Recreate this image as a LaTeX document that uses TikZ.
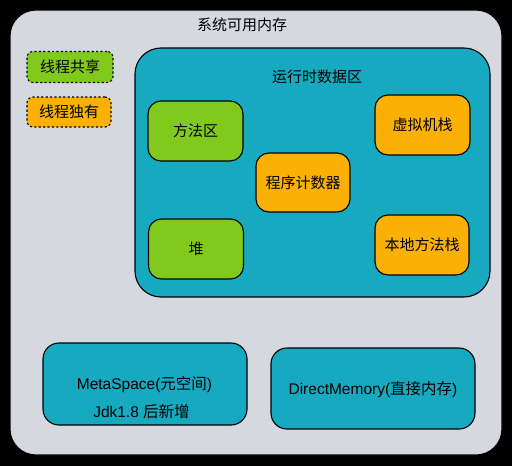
\documentclass[tikz,border=0pt]{standalone}
\usepackage{fontspec}
\setmainfont{Liberation Sans}
\newfontfamily\cjk{Noto Sans CJK SC}
\definecolor{bggray}{HTML}{D5D9DF}
\definecolor{teal}{HTML}{16A9BF}
\definecolor{grn}{HTML}{82C91E}
\definecolor{orng}{HTML}{FAB005}
\begin{document}
\begin{tikzpicture}[x=1pt,y=-1pt,
  every node/.style={font=\cjk\fontsize{15}{18}\selectfont, inner sep=0pt},
  box/.style={draw=black, line width=1.1pt, rounded corners=13pt},
  greenbox/.style={box, fill=grn, minimum width=95pt, minimum height=60pt},
  orangebox/.style={box, fill=orng, minimum width=95pt, minimum height=60pt},
  legendbox/.style={draw=black, line width=1.1pt, dash pattern=on 2.2pt off 2.2pt, rounded corners=6pt, minimum height=31pt},
  tealbox/.style={box, fill=teal, rounded corners=16pt, minimum width=204pt, minimum height=82pt},
  lbl/.style={text=black},
  latin/.style={lbl, font=\fontsize{15.5}{18}\selectfont}
]
\fill[black] (0,0) rectangle (512,466);
\useasboundingbox (0,0) rectangle (512,466);
% main container
\node[draw=black, line width=1.1pt, fill=bggray, rounded corners=26pt,
      minimum width=492pt, minimum height=445pt] (main) at (256,232.5) {};
\node[lbl] (maintitle) at (242,25) {系统可用内存};
% legend
\node[legendbox, fill=grn, minimum width=86pt] (shared) at (70,67) {线程共享};
\node[legendbox, fill=orng, minimum width=84pt, minimum height=30pt] (private) at (69,112) {线程独有};
% runtime data area
\node[box, fill=teal, rounded corners=26pt, minimum width=355pt, minimum height=249pt] (rt) at (312.5,172.5) {};
\node[lbl] (rttitle) at (317,77) {运行时数据区};
\node[greenbox] (method) at (195.5,131) {方法区};
\node[orangebox] (vmstack) at (422.5,125) {虚拟机栈};
\node[orangebox, minimum width=94pt, minimum height=59pt] (pc) at (303,182.5) {程序计数器};
\node[greenbox] (heap) at (196,249) {堆};
\node[orangebox, minimum width=94pt] (native) at (422,245) {本地方法栈};
% bottom boxes
\node[tealbox] (meta) at (145,384) {};
\node[latin] (metal1) at (144.5,385) {MetaSpace({\cjk 元空间})};
\node[latin] (metal2) at (141.5,412) {Jdk1.8 {\cjk 后新增}};
\node[tealbox, minimum height=81pt] (direct) at (373,388.5) {};
\node[latin] (directl) at (373,390) {DirectMemory({\cjk 直接内存})};
\end{tikzpicture}
\end{document}
